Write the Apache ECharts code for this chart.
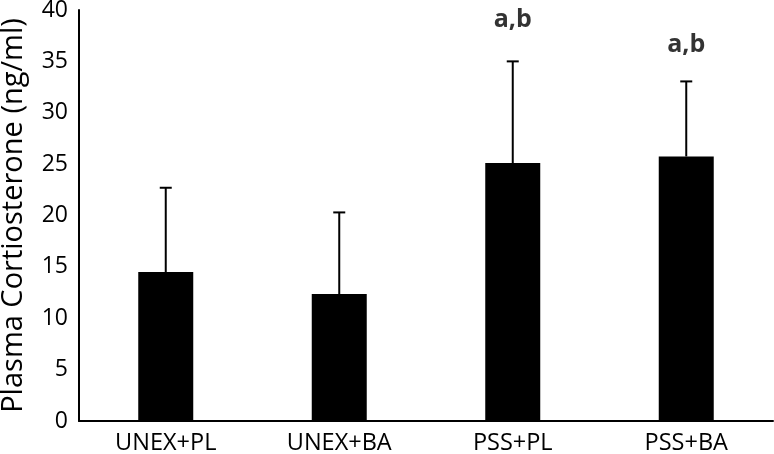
<!DOCTYPE html>
<html>
<head>
<meta charset="utf-8">
<script src="https://cdn.jsdelivr.net/npm/echarts@6/dist/echarts.min.js"></script>
<style>html,body{margin:0;padding:0;background:#fff}#c{width:774px;height:454px}</style>
</head>
<body>
<div id="c"></div>
<script>
var categories = ['UNEX+PL', 'UNEX+BA', 'PSS+PL', 'PSS+BA'];
var means = [14.5, 12.35, 25.1, 25.75];
var errors = [8.2, 7.95, 9.9, 7.3];
var sigLabels = ['', '', 'a,b', 'a,b'];
var sigLabelY = [null, null, 39.0, 36.6];
var yTicks = [0, 5, 10, 15, 20, 25, 30, 35, 40];

var chart = echarts.init(document.getElementById('c'), null, {renderer: 'canvas'});
var FONT = 'Open Sans';
chart.setOption({
  animation: false,
  backgroundColor: '#fff',
  grid: {left: 79, right: 1, top: 10, bottom: 33, containLabel: false, outerBoundsMode: 'none'},
  xAxis: {
    type: 'category',
    data: categories,
    axisLine: {lineStyle: {color: '#000', width: 2}},
    axisTick: {show: false},
    axisLabel: {color: '#000', fontSize: 23.5, fontFamily: FONT, margin: 10}
  },
  yAxis: {
    type: 'value',
    min: yTicks[0],
    max: yTicks[yTicks.length - 1],
    interval: 5,
    name: 'Plasma Cortiosterone (ng/ml)',
    nameLocation: 'middle',
    nameGap: 51,
    nameTextStyle: {color: '#000', fontSize: 29, fontFamily: FONT},
    axisLine: {show: true, lineStyle: {color: '#000', width: 2}},
    axisTick: {show: false},
    splitLine: {show: false},
    axisLabel: {color: '#000', fontSize: 23, fontFamily: FONT, margin: 11}
  },
  series: [
    {
      type: 'bar',
      data: means,
      barWidth: '31.7%',
      itemStyle: {color: '#000'},
      z: 2
    },
    {
      type: 'custom',
      data: means.map(function (m, i) { return [i, m, m + errors[i]]; }),
      renderItem: function (params, api) {
        var base = api.coord([api.value(0), api.value(1)]);
        var top = api.coord([api.value(0), api.value(2)]);
        var hw = 6;
        return {
          type: 'group',
          children: [
            {type: 'line', shape: {x1: base[0], y1: base[1], x2: top[0], y2: top[1]}, style: {stroke: '#000', lineWidth: 2}},
            {type: 'line', shape: {x1: top[0] - hw, y1: top[1], x2: top[0] + hw, y2: top[1]}, style: {stroke: '#000', lineWidth: 2}}
          ]
        };
      },
      z: 3
    },
    {
      type: 'scatter',
      symbolSize: 0,
      data: sigLabelY.map(function (v, i) { return v === null ? null : [i, v]; }).filter(function (d) { return d; }),
      label: {
        show: true,
        position: 'inside',
        formatter: function (p) { return sigLabels[p.data[0]]; },
        color: '#000',
        fontSize: 25,
        fontWeight: 'bold',
        fontFamily: FONT
      }
    }
  ]
});
</script>
</body>
</html>
